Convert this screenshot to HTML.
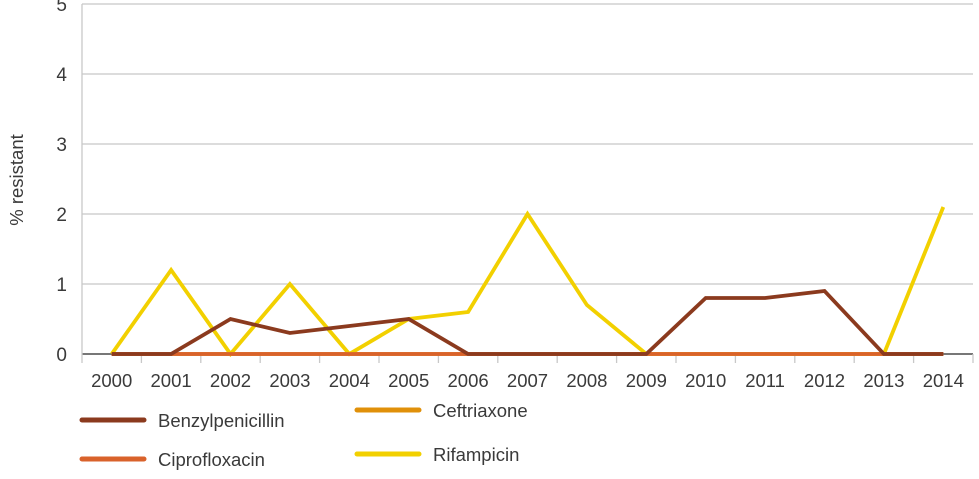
<!DOCTYPE html>
<html><head><meta charset="utf-8"><style>
body{margin:0;background:#fff;width:979px;height:474px;overflow:hidden}
text{font-family:"Liberation Sans",Arial,sans-serif;fill:#3a3a3a}
</style></head><body>
<svg id="chart" width="979" height="474" xmlns="http://www.w3.org/2000/svg"></svg>
<script>
const categories=["2000","2001","2002","2003","2004","2005","2006","2007","2008","2009","2010","2011","2012","2013","2014"];
const yTicks=[0,1,2,3,4,5];
const benzyl=[0,0,0.5,0.3,0.4,0.5,0,0,0,0,0.8,0.8,0.9,0,0];
const ceftriaxone=[0,0,0,0,0,0,0,0,0,0,0,0,0,0,0];
const cipro=[0,0,0,0,0,0,0,0,0,0,0,0,0,0,0];
const rifampicin=[0,1.2,0,1,0,0.5,0.6,2,0.7,0,0,0,0,0,2.1];
const NS="http://www.w3.org/2000/svg";
const svg=document.getElementById('chart');
const L=82,R=973,T=4,B=354,band=(R-L)/categories.length;
const x=i=>L+band*(i+0.5);
const y=v=>B-(B-T)*v/5;
function mk(t,a,p){const e=document.createElementNS(NS,t);for(const k in a)e.setAttribute(k,a[k]);(p||svg).appendChild(e);return e;}
yTicks.forEach(v=>{
 const g=mk('line',{x1:L,x2:R,y1:y(v),y2:y(v),stroke:v===0?'#777':'#c8c8c8','stroke-width':v===0?2:1.3});
 
 
 const t=mk('text',{x:67,y:y(v)+7,'text-anchor':'end','font-size':19});
 t.textContent=v;
 
 
});
const ax=mk('line',{x1:L,x2:L,y1:T,y2:B,stroke:'#c8c8c8','stroke-width':1.3});


for(let i=0;i<=categories.length;i++){
 const tk=mk('line',{x1:L+band*i,x2:L+band*i,y1:B,y2:B+9,stroke:'#c8c8c8','stroke-width':1.3});
 
 
}
categories.forEach((c,i)=>{
 const t=mk('text',{x:x(i),y:387,'text-anchor':'middle','font-size':18.5});
 t.textContent=c;
 
 
});
const yt=mk('text',{x:0,y:0,'text-anchor':'middle','font-size':18.5,transform:'translate(23,180) rotate(-90)'});
yt.textContent='% resistant';


function series(vals,color,name){
 const p=mk('polyline',{points:vals.map((v,i)=>x(i)+','+y(v)).join(' '),fill:'none',stroke:color,'stroke-width':3.8,'stroke-linejoin':'miter'});
 
 
}
series(ceftriaxone,'#e0900a','ceftriaxone');
series(rifampicin,'#f2d000','rifampicin');
series(cipro,'#d9622b','ciprofloxacin');
series(benzyl,'#8b3a1e','benzylpenicillin');
const legend=[["Benzylpenicillin","#8b3a1e",80,420],["Ceftriaxone","#e0900a",355,410],["Ciprofloxacin","#d9622b",80,459],["Rifampicin","#f2d000",355,454]];
legend.forEach(([n,c,lx,ly])=>{
 const g=mk('g',{});
 
 
 mk('line',{x1:lx+2,x2:lx+64,y1:ly,y2:ly,stroke:c,'stroke-width':5,'stroke-linecap':'round'},g);
 const t=mk('text',{x:lx+78,y:ly+7,'font-size':18.5},g);
 t.textContent=n;
});
</script>
</body></html>
